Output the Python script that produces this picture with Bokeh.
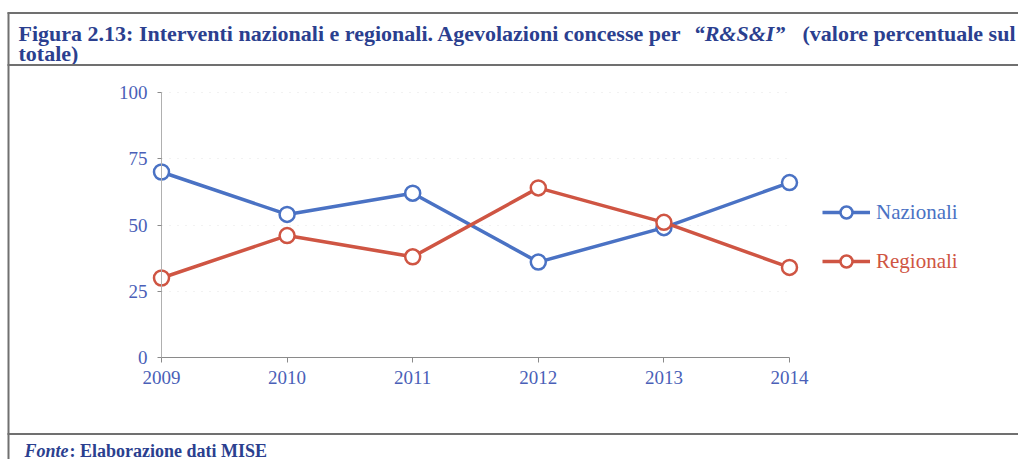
from bokeh.plotting import figure
from bokeh.models import (Range1d, FixedTicker, Label, BoxAnnotation, Legend, LegendItem)
from bokeh.embed import file_html
from bokeh.resources import INLINE

# ---- data ----
years = [2009, 2010, 2011, 2012, 2013, 2014]
nazionali = [70, 54, 62, 36, 49, 66]
regionali = [30, 46, 38, 64, 51, 34]
y_ticks = [0, 25, 50, 75, 100]
series_names = ["Nazionali", "Regionali"]
title_a = "Figura 2.13: Interventi nazionali e regionali. Agevolazioni concesse per"
title_b = "\u201cR&S&I\u201d"
title_c = "(valore percentuale sul"
title_line2 = "totale)"
source_label = "Fonte"
source_text = ": Elaborazione dati MISE"

# ---- layout constants (canvas pixels, top-left origin) ----
W, H = 1018, 459
X0_PX, X1_PX = 161, 789     # pixel of first / last year
Y0_PX, Y1_PX = 357, 92      # pixel of 0 / 100
BLUE = "#4a72c4"
RED = "#cf5543"
NAVY = "#2b3f8f"
TICK_COL = "#4a5fb8"
SERIF = "Liberation Serif"

pxx = (X1_PX - X0_PX) / (years[-1] - years[0])
pxy = (Y0_PX - Y1_PX) / 100.0
x_range = Range1d(years[0] - X0_PX / pxx, years[0] + (W - X0_PX) / pxx)
y_range = Range1d(-(H - Y0_PX) / pxy, 100 + Y1_PX / pxy)

p = figure(width=W, height=H, output_backend="svg", toolbar_location=None,
           x_range=x_range, y_range=y_range,
           min_border=0, min_border_left=0, min_border_right=0,
           min_border_top=0, min_border_bottom=0)
p.outline_line_color = None
p.background_fill_color = "white"
p.border_fill_color = "white"

# axes drawn at fixed locations inside the frame
for ax in (p.xaxis[0], p.yaxis[0]):
    ax.axis_line_color = "#8a8a8a"
    ax.axis_line_width = 1
    ax.major_tick_line_color = "#8a8a8a"
    ax.minor_tick_line_color = None
    ax.major_tick_in = 0
    ax.major_label_text_font = SERIF
    ax.major_label_text_font_size = "19px"
    ax.major_label_text_color = TICK_COL
p.xaxis[0].fixed_location = 0
p.xaxis[0].ticker = FixedTicker(ticks=years)
p.xaxis[0].bounds = (years[0], years[-1])
p.xaxis[0].major_label_overrides = {y: str(y) for y in years}
p.xaxis[0].major_tick_out = 5
p.xaxis[0].major_label_standoff = 8
p.yaxis[0].fixed_location = years[0]
p.yaxis[0].ticker = FixedTicker(ticks=y_ticks)
p.yaxis[0].bounds = (0, 100)
p.yaxis[0].axis_line_color = "#b0b0b0"
p.yaxis[0].major_tick_out = 4
p.yaxis[0].major_label_standoff = 10

p.xgrid.grid_line_color = None
p.ygrid.ticker = FixedTicker(ticks=y_ticks[1:])
p.ygrid.grid_line_color = "#e4e4e4"
p.ygrid.grid_line_dash = "1 7"
p.ygrid.cross_bounds = (years[0], years[-1])

# series
l1 = p.line(years, nazionali, line_color=BLUE, line_width=3.5)
s1 = p.scatter(years, nazionali, size=15, marker="circle", line_color=BLUE,
               line_width=2.5, fill_color="white")
l2 = p.line(years, regionali, line_color=RED, line_width=3.5)
s2 = p.scatter(years, regionali, size=15, marker="circle", line_color=RED,
               line_width=2.5, fill_color="white")

# legends (one per series so text colours differ)
def make_legend(name, rends, color, cy):
    gh = 30
    lg = Legend(items=[LegendItem(label=name, renderers=rends)],
                location=(822, H - cy - gh // 2),
                glyph_width=48, glyph_height=gh, label_height=gh,
                label_standoff=6, padding=0, margin=0, spacing=0,
                border_line_alpha=0, background_fill_alpha=0,
                label_text_font=SERIF, label_text_font_size="21px",
                label_text_color=color)
    p.add_layout(lg, "center")

make_legend(series_names[0], [l1, s1], BLUE, 212)
make_legend(series_names[1], [l2, s2], RED, 261)

# border lines (screen units, y up from bottom of canvas)
def box(x0, x1, y0, y1, col="#707070"):
    p.add_layout(BoxAnnotation(left=x0, right=x1, bottom=H - y1, top=H - y0,
                               left_units="screen", right_units="screen",
                               bottom_units="screen", top_units="screen",
                               fill_color=col, fill_alpha=1, line_alpha=0, level="overlay"))

box(7, W, 11.5, 13.5)
box(7, W, 63.5, 65.5)
box(7, W, 432.5, 434.5)
box(7, 9, 12, H)

def text(X, Y, s, size, style="bold", col=NAVY, align="left"):
    p.add_layout(Label(x=X, y=H - Y, x_units="screen", y_units="screen", text=s,
                       text_font=SERIF, text_font_size=size, text_font_style=style,
                       text_color=col, text_baseline="alphabetic", text_align=align))

text(18, 33, title_a, "22px")
text(739, 33, title_b, "22px", "bold italic", align="center")
text(1015, 33, title_c, "22px", align="right")
text(18, 53, title_line2, "22px")
text(24, 450, source_label, "18px", "bold italic")
text(69, 450, source_text, "18px")

open("out.html", "w").write(file_html(p, INLINE))
